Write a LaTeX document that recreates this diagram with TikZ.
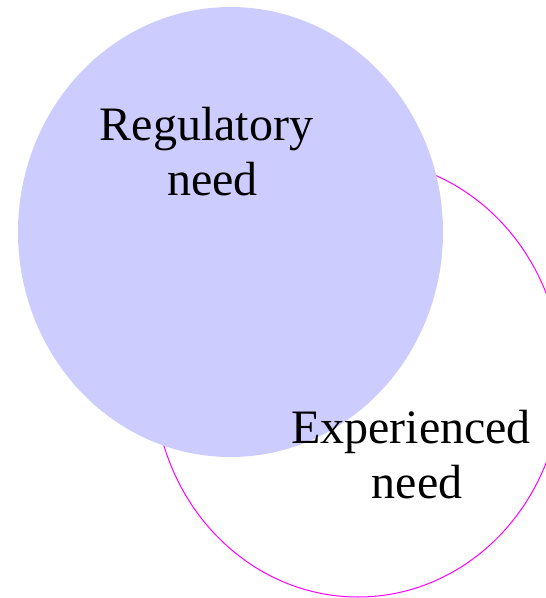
\documentclass[tikz,border=0pt]{standalone}
\usepackage{fontspec}
\setmainfont{Liberation Serif}
\definecolor{regblue}{RGB}{204,204,255}
\definecolor{expmag}{RGB}{255,0,255}
\tikzset{
  regset/.style={fill=regblue, draw=none},
  expset/.style={draw=expmag, line width=1pt},
  setlabel/.style={font=\fontsize{48}{55}\selectfont, align=center, inner sep=0pt, anchor=base}
}
\begin{document}
\begin{tikzpicture}[x=1pt,y=1pt]
\useasboundingbox (0,0) rectangle (546,-598);
\begin{scope}
\clip (0,0) rectangle (546,-598);
\draw[expset] (358,-378) ellipse [x radius=204, y radius=219];
\end{scope}
\fill[regset] (230.5,-232) ellipse [x radius=212.5, y radius=225];
\node[setlabel] (reg) at (212.5,-195) {Regulatory\hspace*{12pt}\\need};
\node[setlabel] (exp) at (417,-498) {Experienced\hspace*{12pt}\\need};
\end{tikzpicture}
\end{document}
